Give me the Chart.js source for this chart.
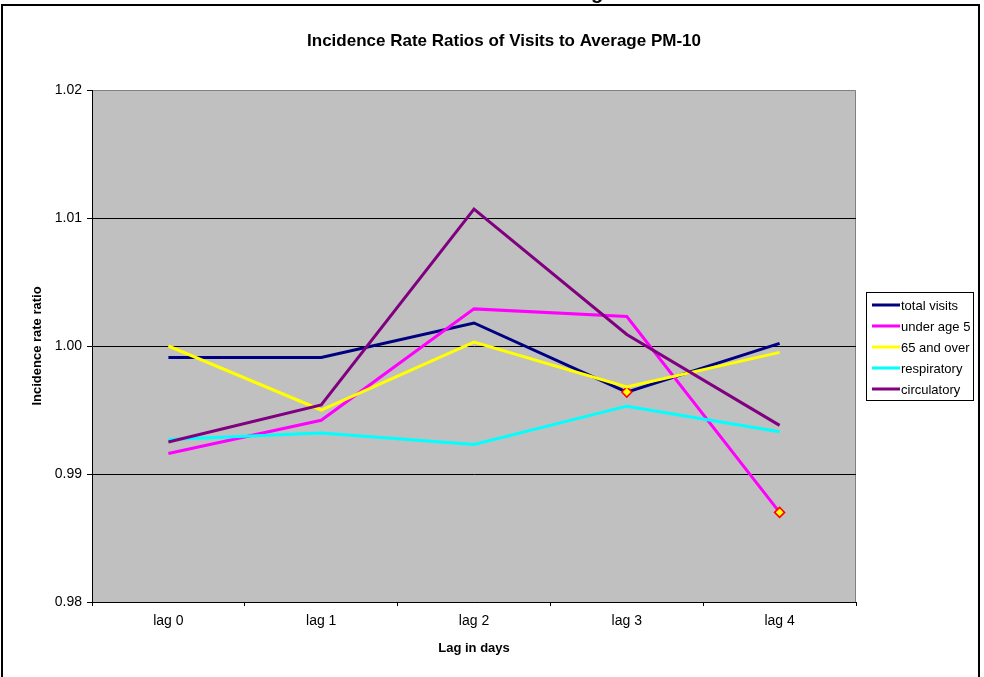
<!DOCTYPE html>
<html>
<head>
<meta charset="utf-8">
<script src="https://cdn.jsdelivr.net/npm/chart.js@4"></script>
<style>
  html, body { margin: 0; padding: 0; background: #fff; }
  #wrap { position: relative; width: 984px; height: 677px; }
</style>
</head>
<body>
<div id="wrap"><canvas id="line-chart" width="984" height="677"></canvas></div>
<script>
const categories = ["lag 0", "lag 1", "lag 2", "lag 3", "lag 4"];

const totalVisits = [0.9991, 0.9991, 1.0018, 0.9964, 1.0002];
const underAge5 = [0.9916, 0.9942, 1.0029, 1.0023, 0.987];
const over65 = [1.0, 0.995, 1.0003, 0.9968, 0.9995];
const respiratory = [0.9927, 0.9932, 0.9923, 0.9953, 0.9933];
const circulatory = [0.9925, 0.9954, 1.0107, 1.0009, 0.9938];

// points that carry a marker in the original
const totalVisitsMarks = [0, 0, 0, 5, 0];
const underAge5Marks = [0, 0, 0, 0, 5];

const yTickLabels = ["0.98", "0.99", "1.00", "1.01", "1.02"];

const FONT = "Arial, 'Liberation Sans', sans-serif";
Chart.defaults.font.family = FONT;
Chart.defaults.color = "#000";

const seriesList = [
  { label: "total visits", data: totalVisits, color: "#000080", marks: totalVisitsMarks },
  { label: "under age 5", data: underAge5, color: "#FF00FF", marks: underAge5Marks },
  { label: "65 and over", data: over65, color: "#FFFF00" },
  { label: "respiratory", data: respiratory, color: "#00FFFF" },
  { label: "circulatory", data: circulatory, color: "#800080" },
];

// page frame, plot background, title and legend
const decorPlugin = {
  id: "decor",
  beforeDraw(chart) {
    const ctx = chart.ctx;
    const a = chart.chartArea;
    ctx.save();
    ctx.fillStyle = "#fff";
    ctx.fillRect(0, 0, chart.width, chart.height);
    ctx.fillStyle = "#C0C0C0";
    ctx.fillRect(a.left, a.top, a.right - a.left, a.bottom - a.top);
    ctx.strokeStyle = "#808080";
    ctx.lineWidth = 1;
    ctx.beginPath();
    ctx.moveTo(a.left, a.top + 0.5);
    ctx.lineTo(a.right - 0.5, a.top + 0.5);
    ctx.lineTo(a.right - 0.5, a.bottom);
    ctx.stroke();
    ctx.restore();
  },
  afterDraw(chart) {
    const ctx = chart.ctx;
    ctx.save();
    // outer frame
    ctx.strokeStyle = "#000";
    ctx.lineWidth = 2;
    ctx.strokeRect(2, 5, 977, 720);
    // cut-off heading above the chart
    ctx.fillStyle = "#000";
    ctx.font = "bold 20px " + FONT;
    ctx.textAlign = "left";
    ctx.textBaseline = "alphabetic";
    ctx.fillText("g", 591, -1);
    // title
    ctx.font = "bold 17px " + FONT;
    ctx.textAlign = "center";
    ctx.textBaseline = "middle";
    ctx.fillText("Incidence Rate Ratios of Visits to Average PM-10", 504, 41);
    // legend
    const lx = 866, ly = 292, lw = 107, lh = 108;
    ctx.fillStyle = "#fff";
    ctx.fillRect(lx, ly, lw, lh);
    ctx.strokeStyle = "#000";
    ctx.lineWidth = 1;
    ctx.strokeRect(lx + 0.5, ly + 0.5, lw, lh);
    ctx.font = "13px " + FONT;
    ctx.textAlign = "left";
    seriesList.forEach((s, i) => {
      const y = 305 + i * 21;
      ctx.strokeStyle = s.color;
      ctx.lineWidth = 3;
      ctx.beginPath();
      ctx.moveTo(872, y);
      ctx.lineTo(900, y);
      ctx.stroke();
      ctx.fillStyle = "#000";
      ctx.fillText(s.label, 901, y + 1);
    });
    ctx.restore();
  },
};

const ctx = document.getElementById("line-chart").getContext("2d");

new Chart(ctx, {
  type: "line",
  data: {
    labels: categories,
    datasets: seriesList.map((s, i) => ({
      label: s.label,
      data: s.data,
      borderColor: s.color,
      borderWidth: 3,
      tension: 0,
      fill: false,
      order: seriesList.length - i,
      pointStyle: "rectRot",
      pointRadius: s.marks || 0,
      pointBackgroundColor: "#FFFF00",
      pointBorderColor: "#FF0000",
      pointBorderWidth: 1.5,
    })),
  },
  options: {
    responsive: false,
    animation: false,
    events: [],
    layout: { padding: { left: 0, top: 90, right: 128, bottom: 0 } },
    plugins: {
      legend: { display: false },
      title: { display: false },
      tooltip: { enabled: false },
    },
    scales: {
      x: {
        offset: true,
        grid: {
          offset: true,
          drawOnChartArea: false,
          drawTicks: true,
          tickLength: 4,
          tickColor: "#000",
        },
        border: { color: "#000", width: 1 },
        ticks: { font: { size: 14 }, padding: 7, color: "#000" },
        title: {
          display: true,
          text: "Lag in days",
          font: { size: 13, weight: "bold" },
          padding: { top: 0, bottom: 21 },
        },
        afterFit(scale) {
          scale.height = 75;
        },
      },
      y: {
        min: 0.98,
        max: 1.02,
        grid: {
          color: (c) => (c.tick && c.tick.value > 1.015 ? "rgba(0,0,0,0)" : "#000"),
          tickColor: "#000",
          tickLength: 5,
          lineWidth: 1,
        },
        border: { color: "#000", width: 1 },
        ticks: {
          stepSize: 0.01,
          padding: 5,
          font: { size: 14 },
          color: "#000",
          callback: (v, i) => yTickLabels[i],
        },
        title: {
          display: true,
          text: "Incidence rate ratio",
          font: { size: 13, weight: "bold" },
          padding: { top: 30, bottom: 0 },
        },
        afterFit(scale) {
          scale.width = 92;
        },
      },
    },
  },
  plugins: [decorPlugin],
});
</script>
</body>
</html>
